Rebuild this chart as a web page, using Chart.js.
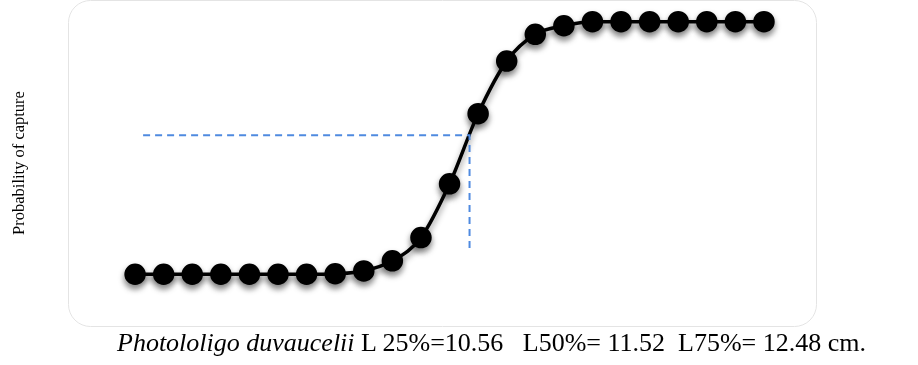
<!DOCTYPE html>
<html>
<head>
<meta charset="utf-8">
<script src="https://cdn.jsdelivr.net/npm/chart.js@4/dist/chart.umd.min.js"></script>
<style>
  body { margin: 0; background: #fff; }
  #wrap { position: relative; width: 918px; height: 365px; }
  #caption {
    position: absolute; left: 117px; top: 330px;
    font-family: "Liberation Serif", "DejaVu Serif", serif; font-size: 26px; line-height: 26px;
    color: #000; white-space: pre;
  }
</style>
</head>
<body>
<div id="wrap">
  <canvas id="grafico" width="918" height="365"></canvas>
  <div id="caption"><i>Photololigo duvaucelii</i> L 25%=10.56   L50%= 11.52  L75%= 12.48 cm.</div>
</div>
<script>
// point index along the length axis and probability of capture
const indices = [0,1,2,3,4,5,6,7,8,9,10,11,12,13,14,15,16,17,18,19,20,21,22];
const probCaptura = [0,0,0,0,0,0,0,0.002,0.013,0.053,0.145,0.358,0.636,0.844,0.95,0.984,1,1,1,1,1,1,1];

// dashed L50 guide
const refX = [0.28, 11.7, 11.7];
const refY = [0.55, 0.55, 0.10];

const canvas = document.getElementById("grafico");

const marco = {
  id: "marco",
  beforeDraw(chart) {
    const {ctx, chartArea: a} = chart;
    ctx.save();
    ctx.strokeStyle = "#e4e4e4";
    ctx.lineWidth = 1;
    ctx.beginPath();
    ctx.roundRect(a.left + 0.5, a.top + 0.5, a.right - a.left, a.bottom - a.top, 22);
    ctx.stroke();
    ctx.restore();
  },
  beforeDatasetDraw(chart, args) {
    if (args.index !== 1) return;
    const ctx = chart.ctx;
    ctx.save();
    ctx.shadowColor = "rgba(0,0,0,0.45)";
    ctx.shadowBlur = 6;
    ctx.shadowOffsetY = 4;
  },
  afterDatasetDraw(chart, args) {
    if (args.index !== 1) return;
    chart.ctx.restore();
  }
};

new Chart(canvas, {
  type: "line",
  data: {
    datasets: [
      {
        data: refX.map((x, i) => ({x: x, y: refY[i]})),
        borderColor: "#4f8ae0",
        borderWidth: 2,
        borderDash: [7, 5],
        pointRadius: 0,
        tension: 0
      },
      {
        data: indices.map((x, i) => ({x: x, y: probCaptura[i]})),
        borderColor: "#000",
        backgroundColor: "#000",
        borderWidth: 3.5,
        pointRadius: 9,
        pointHoverRadius: 9,
        cubicInterpolationMode: "monotone"
      }
    ]
  },
  options: {
    responsive: false,
    animation: false,
    events: [],
    layout: { autoPadding: false, padding: { top: 0, right: 102, bottom: 39, left: 0 } },
    plugins: { legend: { display: false }, tooltip: { enabled: false } },
    scales: {
      x: { type: "linear", min: -2.347, max: 23.82, display: false },
      y: {
        min: -0.205, max: 1.086,
        grid: { display: false },
        border: { display: false },
        ticks: { display: false },
        title: {
          display: true,
          text: "Probability of capture",
          color: "#000",
          font: { family: "Liberation Serif", size: 16.5 },
          padding: { top: 10, bottom: 0 }
        },
        afterFit(scale) { scale.width = 68; }
      }
    }
  },
  plugins: [marco]
});
</script>
</body>
</html>
